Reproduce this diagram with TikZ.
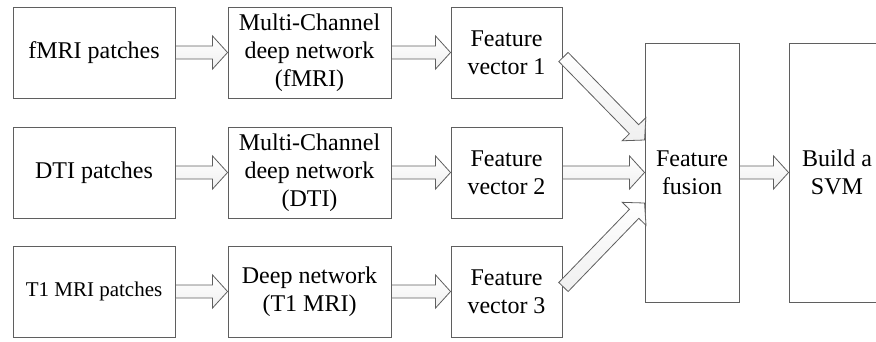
\documentclass[tikz,border=0pt]{standalone}
\usepackage{fontspec}
\setmainfont{Liberation Serif}
\usetikzlibrary{calc,shadows}
\definecolor{edge}{RGB}{95,95,95}
\tikzset{
  box/.style={draw=edge, line width=0.9pt, fill=white, align=center, inner sep=0pt,
    font=\fontsize{24}{28}\selectfont, minimum height=91pt,
    drop shadow={shadow xshift=1.2pt, shadow yshift=-1.2pt, opacity=0.25}},
  tallbox/.style={box, minimum height=259pt},
  fat/.style={draw=edge, line width=0.8pt, top color=white, bottom color=black!6, line join=miter},
}
\newcommand\fatarrow[2]{%
  \draw[fat] let \p1=(#1), \p2=(#2),
    \n1={atan2(\y2-\y1,\x2-\x1)}, \n2={veclen(\x2-\x1,\y2-\y1)-15}, \n3={\n1+90} in
    ($(\p1)+(\n3:6.5)$) -- ($(\p1)+(\n1:\n2)+(\n3:6.5)$) -- ($(\p1)+(\n1:\n2)+(\n3:16.5)$)
    -- (\p2) -- ($(\p1)+(\n1:\n2)+(\n3:-16.5)$) -- ($(\p1)+(\n1:\n2)+(\n3:-6.5)$)
    -- ($(\p1)+(\n3:-6.5)$) -- cycle;}
\begin{document}
\begin{tikzpicture}[x=1pt,y=1pt]
\useasboundingbox (0,0) rectangle (876,-341);
\clip (0,0) rectangle (876,-341);
% row 1
\node[box, minimum width=162pt] (a1) at (94,-52.5) {fMRI patches};
\node[box, minimum width=163pt] (b1) at (309.5,-52.5) {Multi-Channel\\deep network\\(fMRI)};
\node[box, minimum width=111pt] (c1) at (506.5,-52.5) {Feature\\vector 1};
% row 2
\node[box, minimum width=162pt] (a2) at (94,-172.5) {DTI patches};
\node[box, minimum width=163pt] (b2) at (309.5,-172.5) {Multi-Channel\\deep network\\(DTI)};
\node[box, minimum width=111pt] (c2) at (506.5,-172.5) {Feature\\vector 2};
% row 3
\node[box, minimum width=162pt, font=\fontsize{21}{25}\selectfont] (a3) at (94,-291.5) {T1 MRI patches};
\node[box, minimum width=163pt] (b3) at (309.5,-291.5) {Deep network\\(T1 MRI)};
\node[box, minimum width=111pt] (c3) at (506.5,-291.5) {Feature\\vector 3};
% right
\node[tallbox, minimum width=94pt] (f) at (692,-172.5) {Feature\\fusion};
\node[tallbox, minimum width=96pt] (s) at (837,-172.5) {Build a\\SVM};
% diagonal ends
\coordinate (t1) at ($(c1.east)+(1,-4.5)$);
\coordinate (h1) at ($(f.west)+(0,32.5)$);
\coordinate (t3) at ($(c3.east)+(1,4.5)$);
\coordinate (h3) at ($(f.west)+(0,-30.5)$);
% arrows
\fatarrow{a1.east}{b1.west}
\fatarrow{b1.east}{c1.west}
\fatarrow{a2.east}{b2.west}
\fatarrow{b2.east}{c2.west}
\fatarrow{a3.east}{b3.west}
\fatarrow{b3.east}{c3.west}
\fatarrow{t1}{h1}
\fatarrow{c2.east}{f.west}
\fatarrow{t3}{h3}
\fatarrow{f.east}{s.west}
\end{tikzpicture}
\end{document}
